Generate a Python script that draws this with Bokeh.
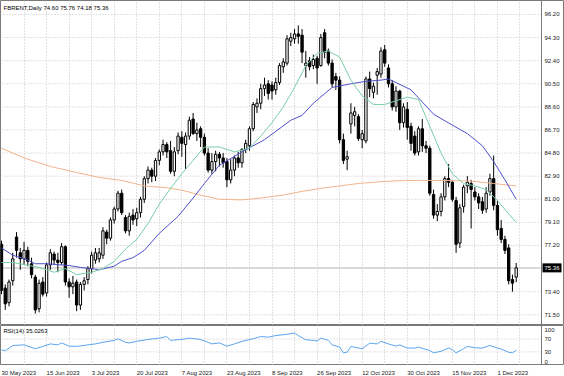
from bokeh.plotting import figure
from bokeh.models import Range1d, FixedTicker, Label, Span, ColumnDataSource
from bokeh.layouts import column
from bokeh.core.properties import value
from bokeh.embed import file_html
from bokeh.resources import INLINE

FONT = "Liberation Sans"

# ---- daily candles (index 0 = 30 May 2023) ----
opens = [77.3, 73.7, 72.5, 74.3, 77.9, 76.6, 76.1, 76.8, 75.7, 74.6,
         72.0, 74.2, 73.3, 75.6, 76.5, 76.0, 75.8, 77.1, 74.2, 73.8,
         74.2, 72.3, 74.0, 74.4, 75.3, 76.0, 76.1, 76.4, 78.3, 77.8,
         79.3, 80.2, 81.5, 79.5, 78.4, 79.7, 79.4, 79.9, 81.0, 82.7,
         83.4, 82.9, 84.2, 84.9, 85.5, 85.0, 83.3, 85.0, 86.1, 85.5,
         86.2, 87.6, 86.4, 86.8, 86.1, 84.8, 83.4, 84.1, 84.7, 84.4,
         84.1, 82.6, 83.4, 84.4, 84.0, 85.1, 85.4, 86.8, 88.6, 88.9,
         90.1, 90.5, 90.4, 90.0, 90.6, 91.9, 92.2, 94.0, 94.2, 94.6,
         94.5, 92.0, 92.4, 92.0, 92.6, 92.0, 94.7, 93.2, 92.2, 91.1,
         90.8, 85.9, 84.3, 87.2, 87.9, 87.8, 85.9, 85.8, 90.9, 89.8,
         91.2, 91.3, 93.3, 91.8, 90.5, 88.6, 89.9, 87.3, 88.4, 87.0,
         86.2, 84.9, 86.8, 85.4, 85.2, 81.4, 79.7, 80.0, 81.2, 82.7,
         82.4, 80.9, 77.4, 80.4, 82.1, 82.3, 81.6, 81.2, 80.8, 80.2,
         81.6, 82.7, 80.5, 78.6, 77.7, 77.0, 74.4, 74.60]
highs = [77.6, 74.0, 74.4, 76.6, 78.3, 77.0, 77.5, 77.1, 76.2, 74.8,
         74.4, 74.6, 75.8, 76.9, 76.7, 76.6, 77.4, 77.2, 74.5, 74.7,
         74.4, 74.2, 74.6, 75.5, 76.7, 77.0, 77.0, 78.7, 78.5, 79.5,
         80.4, 81.7, 81.8, 79.7, 79.9, 80.2, 80.3, 81.2, 82.9, 83.7,
         83.6, 84.4, 85.1, 85.9, 85.7, 85.8, 85.3, 86.5, 86.6, 86.5,
         87.8, 88.1, 87.3, 87.0, 86.4, 85.2, 84.8, 85.0, 84.9, 84.8,
         84.4, 84.3, 84.6, 84.9, 85.2, 85.9, 87.0, 89.0, 89.3, 90.5,
         91.0, 90.8, 90.7, 91.0, 92.2, 92.6, 94.5, 94.7, 95.0, 95.3,
         95.0, 93.2, 92.7, 92.9, 92.8, 94.6, 95.0, 93.4, 92.5, 91.4,
         91.1, 86.4, 85.0, 88.9, 88.6, 88.0, 86.7, 91.1, 91.5, 90.6,
         91.8, 93.5, 93.7, 92.1, 90.8, 90.3, 90.0, 88.9, 89.0, 87.3,
         86.6, 87.0, 87.6, 85.8, 85.4, 81.8, 80.6, 81.5, 82.9, 83.9,
         82.6, 81.2, 80.6, 82.2, 82.9, 82.6, 82.0, 81.5, 81.2, 82.0,
         83.1, 84.6, 80.9, 79.3, 78.0, 77.3, 74.8, 75.76]
lows = [73.2, 71.9, 72.2, 73.9, 76.2, 75.2, 75.6, 75.5, 74.5, 71.6,
        71.7, 73.0, 73.0, 75.2, 75.6, 75.0, 75.6, 73.9, 72.9, 73.2,
        71.8, 71.9, 73.5, 74.0, 74.9, 75.7, 75.8, 76.1, 77.3, 77.6,
        79.0, 80.0, 79.7, 78.2, 78.0, 78.9, 78.8, 79.5, 80.7, 82.3,
        82.4, 82.5, 83.8, 84.6, 84.4, 83.1, 82.9, 84.7, 84.5, 83.5,
        85.9, 86.3, 85.8, 85.3, 84.6, 83.2, 83.1, 83.3, 83.7, 83.6,
        82.0, 82.3, 82.9, 83.6, 83.6, 84.8, 85.0, 86.6, 88.1, 88.4,
        89.5, 89.2, 89.2, 89.6, 90.4, 91.4, 92.0, 93.6, 93.8, 93.8,
        92.2, 91.0, 91.6, 91.7, 90.5, 91.9, 92.6, 92.0, 90.2, 90.0,
        85.6, 83.9, 83.4, 86.4, 87.0, 85.8, 85.2, 85.6, 89.4, 89.3,
        89.6, 91.0, 91.9, 90.2, 88.3, 88.2, 86.7, 86.9, 85.9, 85.0,
        84.6, 84.6, 84.9, 84.8, 81.3, 79.4, 79.2, 79.6, 80.9, 82.0,
        80.8, 76.6, 77.0, 79.9, 81.5, 78.6, 80.9, 80.2, 79.8, 79.9,
        81.3, 80.1, 78.0, 77.4, 76.5, 74.0, 73.4, 74.18]
closes = [73.5, 72.4, 74.2, 76.1, 76.8, 76.1, 76.8, 75.9, 74.8, 71.9,
          74.1, 73.2, 75.6, 76.6, 76.0, 75.8, 77.1, 74.2, 73.8, 74.1,
          72.3, 74.0, 74.3, 75.3, 76.4, 76.6, 76.6, 78.4, 77.8, 79.3,
          80.2, 81.5, 79.9, 78.4, 79.6, 79.3, 79.9, 81.0, 82.7, 83.4,
          82.9, 84.2, 84.9, 85.5, 84.9, 83.3, 84.9, 86.2, 85.6, 86.2,
          87.5, 86.4, 86.7, 86.1, 84.8, 83.4, 84.1, 84.7, 84.4, 84.0,
          82.6, 83.4, 84.4, 84.0, 85.1, 85.6, 86.8, 88.8, 88.9, 90.1,
          90.4, 89.7, 89.9, 90.6, 92.0, 92.3, 94.2, 94.3, 94.6, 94.4,
          93.1, 92.2, 91.9, 92.5, 91.8, 94.3, 93.1, 92.2, 90.5, 90.8,
          85.9, 84.2, 84.5, 88.1, 88.2, 86.0, 86.4, 90.9, 90.1, 90.3,
          91.5, 93.2, 92.2, 90.5, 88.6, 89.9, 87.3, 88.6, 86.9, 85.6,
          84.8, 86.8, 85.4, 85.2, 81.5, 79.7, 80.0, 81.2, 82.7, 82.4,
          81.0, 77.3, 80.3, 82.0, 82.4, 81.8, 81.2, 80.7, 80.1, 81.5,
          82.7, 80.5, 78.5, 77.7, 76.8, 74.3, 74.1, 75.36]

# ---- moving averages (read at sample bars) ----
ma_fast_idx = [0, 3, 10, 14, 17, 20, 24, 27, 30, 33, 36, 39, 42, 45, 48, 51, 54, 58,
               62, 66, 69, 72, 75, 78, 81, 84, 87, 90, 93, 96, 99, 102, 105, 108,
               111, 114, 117, 120, 123, 126, 129, 132, 135, 137]
ma_fast_val = [75.8, 75.8, 75.4, 75.0, 75.3, 74.8, 75.0, 75.3, 75.9, 76.9, 77.7, 79.0,
               80.6, 81.9, 83.1, 84.2, 85.3, 85.3, 84.9, 85.2, 86.2, 87.3, 88.6, 90.2,
               92.0, 93.0, 93.2, 92.7, 90.8, 89.5, 88.8, 88.8, 89.1, 89.4, 89.2, 87.0,
               84.8, 83.1, 82.3, 82.1, 81.8, 80.9, 79.8, 79.1]
ma_mid_idx = [0, 3, 7, 9, 12, 18, 21, 24, 26, 30, 32, 35, 38, 42, 47, 51, 54, 58, 64,
              70, 77, 80, 83, 88, 93, 97, 101, 103, 105, 109, 112, 115, 120, 124, 128,
              131, 134, 137]
ma_mid_val = [77.0, 76.4, 76.0, 75.7, 75.7, 75.55, 75.4, 75.3, 75.2, 75.5, 75.9, 76.2,
              76.8, 78.2, 79.6, 81.1, 82.3, 83.8, 84.9, 85.9, 87.5, 87.9, 88.9, 90.2,
              90.5, 90.7, 90.8, 90.9, 90.6, 90.0, 89.0, 88.0, 87.1, 86.4, 85.4, 84.1,
              82.6, 81.0]
ma_slow_idx = [0, 6, 13, 20, 26, 32, 38, 44, 48, 53, 58, 64, 69, 75, 80, 85, 90, 95,
               101, 107, 112, 118, 125, 131, 137]
ma_slow_val = [85.2, 84.4, 83.7, 83.2, 82.8, 82.55, 82.1, 81.95, 81.75, 81.35, 81.0,
               80.95, 81.1, 81.35, 81.65, 81.9, 82.1, 82.3, 82.45, 82.55, 82.55, 82.55,
               82.5, 82.3, 82.1]

# ---- RSI(14) (read at sample bars) ----
rsi_idx = [0, 1, 3, 6, 9, 11, 13, 15, 16, 18, 20, 23, 25, 27, 30, 31, 33, 34, 36, 39,
           42, 44, 45, 48, 50, 53, 55, 56, 58, 60, 62, 64, 67, 69, 71, 73, 76, 78, 79,
           81, 83, 84, 85, 87, 88, 90, 91, 92, 93, 95, 96, 98, 100, 101, 103, 105, 106,
           108, 110, 111, 114, 115, 117, 119, 120, 121, 123, 124, 126, 128, 130, 132,
           133, 135, 136, 137]
rsi_val = [36, 34, 50, 52, 40, 47, 55, 52, 58, 48, 47, 52, 55, 60, 66, 71, 60, 58, 63, 69,
           73, 78, 66, 69, 73, 69, 60, 55, 58, 48, 55, 63, 71, 78, 76, 81, 85, 89, 81,
           68, 66, 64, 73, 66, 52, 45, 27, 29, 47, 42, 40, 57, 55, 63, 55, 48, 52,
           42, 42, 45, 34, 27, 32, 42, 37, 27, 40, 47, 43, 42, 50, 42,
           39, 29, 27, 35.0263]

# ---- scales / labels ----
price_ticks = [71.5, 73.4, 75.3, 77.2, 79.1, 81.0, 82.9, 84.8, 86.7, 88.6, 90.5, 92.4, 94.3, 96.2]
rsi_ticks = [0, 30, 70, 100]
rsi_levels = [30, 70]
grid_idx = [6, 12, 18, 24, 30, 36, 42, 48, 54, 60, 66, 72, 78, 84, 90, 96, 102, 108,
            114, 120, 126, 132, 138]
date_idx = [0, 12, 24, 36, 48, 60, 72, 84, 96, 108, 120, 132]
date_labels = ["30 May 2023", "15 Jun 2023", "3 Jul 2023", "20 Jul 2023", "7 Aug 2023",
               "23 Aug 2023", "8 Sep 2023", "26 Sep 2023", "12 Oct 2023", "30 Oct 2023",
               "15 Nov 2023", "1 Dec 2023"]

GRID = "#c4c4c4"
BORDER = "#7a7a7a"
TXT = "#202020"

W = 564
PX_PER_BAR = 3.757
X0 = -1 / PX_PER_BAR                 # frame left edge in bar units
X1 = X0 + W / PX_PER_BAR             # frame right edge
XB = X0 + 541 / PX_PER_BAR           # price-scale border
xr = Range1d(X0, X1)


def base_fig(h, yr, outline=True):
    f = figure(frame_width=W, frame_height=h, x_range=xr, y_range=yr,
               output_backend="svg", toolbar_location=None,
               x_axis_location=None, y_axis_location=None, min_border=0)
    f.background_fill_color = "white"
    f.border_fill_color = "white"
    f.outline_line_color = BORDER if outline else None
    f.ygrid.visible = False
    f.xgrid.ticker = FixedTicker(ticks=grid_idx)
    f.xgrid.grid_line_color = GRID
    f.xgrid.grid_line_dash = "1 2"
    if not outline:
        f.xgrid.visible = False
    return f


def hgrid(f, levels):
    f.segment(x0=[X0] * len(levels), x1=[XB] * len(levels), y0=levels, y1=levels,
              line_color=GRID, line_dash="1 2", line_width=1)


def scale_labels(f, levels, labels):
    f.text(x=[XB] * len(levels), y=levels, text=labels, x_offset=3,
           text_font=value(FONT), text_font_size="6px", text_color=TXT,
           text_baseline="middle", text_align="left")


# ---- main panel ----
p = base_fig(325, Range1d(70.62, 97.35))
hgrid(p, price_ticks)
p.add_layout(Span(location=XB, dimension="height", line_color=BORDER, line_width=1))

last = closes[-1]
p.segment(x0=[X0], x1=[XB], y0=[last], y1=[last], line_color="#c0c0c0", line_width=1)

n = len(closes)
idx = list(range(n))
bull = [i for i in idx if closes[i] >= opens[i]]
bear = [i for i in idx if closes[i] < opens[i]]

wick_src = ColumnDataSource(dict(x=idx, low=lows, high=highs))
p.segment(x0="x", y0="low", x1="x", y1="high", source=wick_src, line_color="black", line_width=1)
bull_src = ColumnDataSource(dict(x=bull, top=[closes[i] for i in bull], bottom=[opens[i] for i in bull]))
bear_src = ColumnDataSource(dict(x=bear, top=[opens[i] for i in bear], bottom=[closes[i] for i in bear]))
p.vbar(x="x", top="top", bottom="bottom", width=0.62, source=bull_src,
       fill_color="white", line_color="black", line_width=1)
p.vbar(x="x", top="top", bottom="bottom", width=0.62, source=bear_src,
       fill_color="black", line_color="black", line_width=1)

p.line(ma_slow_idx, ma_slow_val, line_color="#f2b48c", line_width=1)
p.line(ma_mid_idx, ma_mid_val, line_color="#5050cc", line_width=1)
p.line(ma_fast_idx, ma_fast_val, line_color="#79cfa6", line_width=1)

scale_labels(p, price_ticks, ["%.2f" % t for t in price_ticks])
# last-price box on the scale
p.rect(x=[XB + 10.5 / PX_PER_BAR], y=[last], width=19, height=9,
       width_units="screen", height_units="screen", fill_color="black", line_color=None)
p.text(x=[XB], y=[last], text=["%.2f" % last], x_offset=3, text_font=value(FONT),
       text_font_size="6px", text_color="white", text_baseline="middle", text_align="left")

title = "FBRENT,Daily  %.2f %.2f %.2f %.2f" % (opens[-1], highs[-1], lows[-1], closes[-1])
p.add_layout(Label(x=3, y=318, x_units="screen", y_units="screen", text=title,
                   text_font=FONT, text_font_size="6px", text_color="black",
                   text_baseline="middle", text_align="left"))

# ---- RSI panel ----
p2 = base_fig(40, Range1d(-12.5, 112.5))
hgrid(p2, rsi_levels)
p2.add_layout(Span(location=XB, dimension="height", line_color=BORDER, line_width=1))
p2.line(rsi_idx, rsi_val, line_color="#5aa6ee", line_width=1)
scale_labels(p2, rsi_ticks, [str(t) for t in rsi_ticks])
p2.add_layout(Label(x=3, y=35, x_units="screen", y_units="screen",
                    text="RSI(14) %.4f" % rsi_val[-1], text_font=FONT,
                    text_font_size="6px", text_color="black",
                    text_baseline="middle", text_align="left"))

# ---- date strip ----
p3 = base_fig(11, Range1d(0, 1), outline=False)
p3.text(x=date_idx, y=[0.45] * len(date_idx), text=date_labels, text_font=value(FONT),
        text_font_size="6px", text_color=TXT, text_baseline="middle", text_align="left")

layout = column(p, p2, p3, spacing=0)
open("out.html", "w").write(file_html(layout, INLINE))
